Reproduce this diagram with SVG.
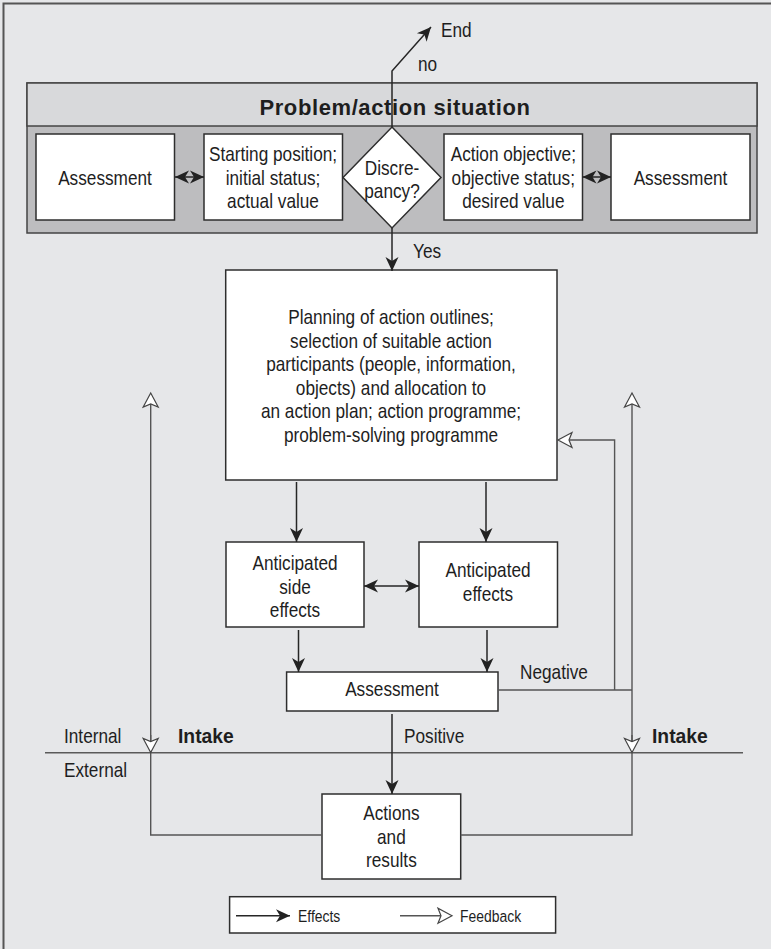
<svg xmlns="http://www.w3.org/2000/svg" width="771" height="949" viewBox="0 0 771 949">
  <style>
    .t { font-family: 'Liberation Sans', Arial, sans-serif; font-size: 21px; fill: #1e1e1e; }
    .c { text-anchor: middle; }
    .b { font-weight: bold; }
    .title { font-family: 'Liberation Sans', Arial, sans-serif; font-size: 22px; font-weight: bold; letter-spacing: 0.6px; fill: #1e1e1e; text-anchor: middle; }
    .lg { font-size: 17px; }
    .box { fill: #ffffff; stroke: #2e2e2e; stroke-width: 1.5; }
    .fx { fill: none; stroke: #262626; stroke-width: 1.5; }
    .fb { fill: none; stroke: #555555; stroke-width: 1.4; }
  </style>
  <defs>
    <!-- solid barbed head for effect arrows, reference point at the tip -->
    <marker id="eff" viewBox="-15 -8 16 16" refX="0" refY="0" markerWidth="16" markerHeight="16" markerUnits="userSpaceOnUse" orient="auto-start-reverse">
      <path d="M0,0 L-14,-6.5 L-10,0 L-14,6.5 Z" fill="#222222"/>
    </marker>
    <!-- hollow barbed head for feedback arrows, reference point at the notch -->
    <marker id="fbk" viewBox="-5 -9 18 18" refX="0" refY="0" markerWidth="18" markerHeight="18" markerUnits="userSpaceOnUse" orient="auto">
      <path d="M11,0 L-3,-7.5 L0,0 L-3,7.5 Z" fill="#ffffff" stroke="#444444" stroke-width="1.2" stroke-linejoin="miter"/>
    </marker>
  </defs>

  <!-- page -->
  <rect x="0" y="0" width="771" height="949" fill="#e6e7e9"/>
  <path d="M3.5,949 V3.5 H771" fill="none" stroke="#555555" stroke-width="2"/>

  <!-- problem / action situation panel -->
  <g id="problem-situation">
    <rect x="27" y="83" width="730" height="150" fill="#bdbdbf" stroke="#444444" stroke-width="1.5"/>
    <rect x="27" y="83" width="730" height="43" fill="#d8d9db" stroke="#444444" stroke-width="1.5"/>
    <text class="title" x="395" y="115">Problem/action situation</text>
  </g>

  <!-- body text uses a horizontally condensed face: translate to anchor, then scale x -->
  <g id="assessment-left">
    <rect class="box" x="36" y="134" width="138.5" height="86"/>
    <text class="t c" transform="translate(105 184.5) scale(0.82 1)">Assessment</text>
  </g>

  <g id="starting-position">
    <rect class="box" x="204" y="134" width="138.5" height="86"/>
    <text class="t c" transform="translate(273 161) scale(0.82 1)">Starting position;</text>
    <text class="t c" transform="translate(273 184.5) scale(0.82 1)">initial status;</text>
    <text class="t c" transform="translate(273 208) scale(0.82 1)">actual value</text>
  </g>

  <g id="discrepancy">
    <polygon class="box" points="392,127 441,177.5 392,228 343,177.5"/>
    <text class="t c" transform="translate(392 175) scale(0.82 1)">Discre-</text>
    <text class="t c" transform="translate(392 198) scale(0.82 1)">pancy?</text>
  </g>

  <g id="action-objective">
    <rect class="box" x="444" y="134" width="138.5" height="86"/>
    <text class="t c" transform="translate(513.3 161) scale(0.82 1)">Action objective;</text>
    <text class="t c" transform="translate(513.3 184.5) scale(0.82 1)">objective status;</text>
    <text class="t c" transform="translate(513.3 208) scale(0.82 1)">desired value</text>
  </g>

  <g id="assessment-right">
    <rect class="box" x="611" y="134" width="139" height="86"/>
    <text class="t c" transform="translate(680.5 184.5) scale(0.82 1)">Assessment</text>
  </g>

  <g id="planning">
    <rect class="box" x="225.7" y="270" width="331.3" height="210"/>
    <text class="t c" transform="translate(391 324) scale(0.82 1)">Planning of action outlines;</text>
    <text class="t c" transform="translate(391 347.5) scale(0.82 1)">selection of suitable action</text>
    <text class="t c" transform="translate(391 371) scale(0.82 1)">participants (people, information,</text>
    <text class="t c" transform="translate(391 394.5) scale(0.82 1)">objects) and allocation to</text>
    <text class="t c" transform="translate(391 418) scale(0.82 1)">an action plan; action programme;</text>
    <text class="t c" transform="translate(391 441.5) scale(0.82 1)">problem-solving programme</text>
  </g>

  <g id="side-effects">
    <rect class="box" x="226" y="542" width="138" height="85"/>
    <text class="t c" transform="translate(295 570) scale(0.82 1)">Anticipated</text>
    <text class="t c" transform="translate(295 593.5) scale(0.82 1)">side</text>
    <text class="t c" transform="translate(295 617) scale(0.82 1)">effects</text>
  </g>

  <g id="effects">
    <rect class="box" x="419" y="542" width="138.5" height="85"/>
    <text class="t c" transform="translate(488 577) scale(0.82 1)">Anticipated</text>
    <text class="t c" transform="translate(488 601) scale(0.82 1)">effects</text>
  </g>

  <g id="assessment-mid">
    <rect class="box" x="286.6" y="672" width="211.4" height="39"/>
    <text class="t c" transform="translate(392 696) scale(0.82 1)">Assessment</text>
  </g>

  <g id="actions-results">
    <rect class="box" x="322" y="794" width="138.7" height="85"/>
    <text class="t c" transform="translate(391.4 820) scale(0.82 1)">Actions</text>
    <text class="t c" transform="translate(391.4 843.5) scale(0.82 1)">and</text>
    <text class="t c" transform="translate(391.4 867) scale(0.82 1)">results</text>
  </g>

  <!-- internal / external boundary -->
  <g id="boundary">
    <line x1="45" y1="752.7" x2="743" y2="752.7" stroke="#5a5a5a" stroke-width="1.6"/>
    <text class="t" transform="translate(64 743) scale(0.82 1)">Internal</text>
    <text class="t" transform="translate(64 777) scale(0.82 1)">External</text>
    <text class="t b" transform="translate(178 743) scale(0.92 1)">Intake</text>
    <text class="t b" transform="translate(652 743) scale(0.92 1)">Intake</text>
  </g>

  <g id="connectors">
    <!-- effects -->
    <path class="fx" d="M392,127 V71 L431,27" marker-end="url(#eff)"/>
    <path class="fx" d="M392,228 V271" marker-end="url(#eff)"/>
    <path class="fx" d="M296.5,482 V542" marker-end="url(#eff)"/>
    <path class="fx" d="M486,482 V542" marker-end="url(#eff)"/>
    <path class="fx" d="M175,177 H204" marker-start="url(#eff)" marker-end="url(#eff)"/>
    <path class="fx" d="M582.5,177 H611" marker-start="url(#eff)" marker-end="url(#eff)"/>
    <path class="fx" d="M364,586 H419" marker-start="url(#eff)" marker-end="url(#eff)"/>
    <path class="fx" d="M298.5,630 V672" marker-end="url(#eff)"/>
    <path class="fx" d="M487,630 V672" marker-end="url(#eff)"/>
    <path class="fx" d="M392,714 V794" marker-end="url(#eff)"/>

    <!-- feedback -->
    <path class="fb" d="M498,690 H632"/>
    <path class="fb" d="M614.6,690 V440 H569" marker-end="url(#fbk)"/>
    <path class="fb" d="M460.7,835 H632 V404" marker-end="url(#fbk)"/>
    <path class="fb" d="M322,835 H150.7 V404" marker-end="url(#fbk)"/>
    <path class="fb" d="M632,735 V741.5" marker-end="url(#fbk)"/>
    <path class="fb" d="M150.7,735 V741.5" marker-end="url(#fbk)"/>

    <text class="t" transform="translate(441 37) scale(0.82 1)">End</text>
    <text class="t" transform="translate(418 71) scale(0.82 1)">no</text>
    <text class="t" transform="translate(413 257.5) scale(0.82 1)">Yes</text>
    <text class="t" transform="translate(520 679) scale(0.82 1)">Negative</text>
    <text class="t" transform="translate(404 743) scale(0.82 1)">Positive</text>
  </g>

  <!-- key -->
  <g id="legend">
    <rect class="box" x="229.6" y="896.7" width="326" height="36.3"/>
    <path class="fx" d="M236,915.7 H290" marker-end="url(#eff)"/>
    <text class="t lg" transform="translate(298 922) scale(0.82 1)">Effects</text>
    <path class="fb" d="M400,915.7 H441" marker-end="url(#fbk)"/>
    <text class="t lg" transform="translate(460 922) scale(0.82 1)">Feedback</text>
  </g>
</svg>
